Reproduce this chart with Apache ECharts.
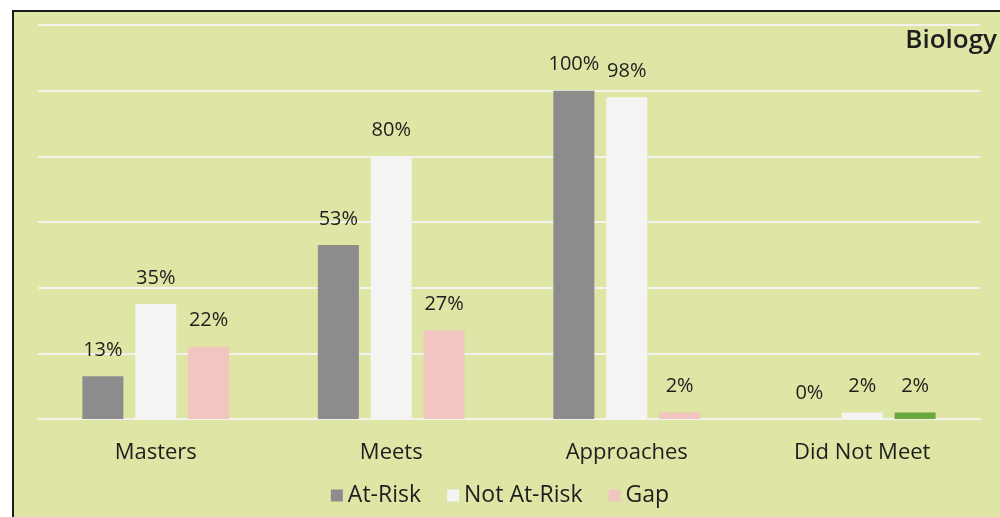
<!DOCTYPE html>
<html>
<head>
<meta charset="utf-8">
<script src="https://cdn.jsdelivr.net/npm/echarts@6/dist/echarts.min.js"></script>
<style>
  html, body { margin: 0; padding: 0; background: #fff; }
  #chart { width: 1000px; height: 517px; }
</style>
</head>
<body>
<div id="chart"></div>
<script>
// Biology: at-risk vs not at-risk performance levels
const categories = ["Masters", "Meets", "Approaches", "Did Not Meet"];
const atRisk = [13, 53, 100, 0];
const notAtRisk = [35, 80, 98, 2];
const gap = [22, 27, 2, 2];

const BG = "#dee5a5";
const FONT = "'Open Sans', 'Noto Sans', sans-serif";
const TXT = "#1e1e1e";

const chart = echarts.init(document.getElementById("chart"));

const lbl = { show: true, position: "top", distance: 16, formatter: "{c}%",
  fontFamily: FONT, fontSize: 20, color: TXT };

chart.setOption({
  animation: false,
  backgroundColor: "#fff",
  textStyle: { fontFamily: FONT },
  graphic: [
    { type: "rect", left: 12, top: 10, z: -10, silent: true,
      shape: { width: 1000, height: 520 },
      style: { fill: BG, stroke: "#1a1a1a", lineWidth: 2 } },
    { type: "text", right: 3, top: 28, z: 10,
      style: { text: "Biology", font: "600 26px " + FONT, fill: TXT } },
  ],
  grid: { left: 38, right: 20, top: 25, bottom: 98 },
  legend: {
    bottom: 5, left: "center", itemWidth: 12, itemHeight: 12, itemGap: 26,
    icon: "rect",
    textStyle: { fontFamily: FONT, fontSize: 23, color: TXT },
    data: ["At-Risk", "Not At-Risk", "Gap"],
  },
  xAxis: {
    type: "category", data: categories,
    axisLine: { lineStyle: { color: "#f2f2ee", width: 2 } },
    axisTick: { show: false },
    axisLabel: { fontFamily: FONT, fontSize: 22, color: TXT, margin: 23 },
  },
  yAxis: {
    type: "value", min: 0, max: 120, interval: 20,
    axisLabel: { show: false },
    axisLine: { show: false }, axisTick: { show: false },
    splitLine: { lineStyle: { color: "#f2f2ee", width: 2 } },
  },
  series: [
    { name: "At-Risk", type: "bar", data: atRisk, barWidth: 41, barGap: "29%",
      itemStyle: { color: "#8c8c8c" }, label: lbl },
    { name: "Not At-Risk", type: "bar", data: notAtRisk, barWidth: 41,
      itemStyle: { color: "#f4f4f2" }, label: lbl },
    { name: "Gap", type: "bar", barWidth: 41,
      data: gap.map((v, i) => i === 3 ? { value: v, itemStyle: { color: "#6aaa3c" } } : v),
      itemStyle: { color: "#f2c6c0" }, label: lbl },
  ],
});
</script>
</body>
</html>
